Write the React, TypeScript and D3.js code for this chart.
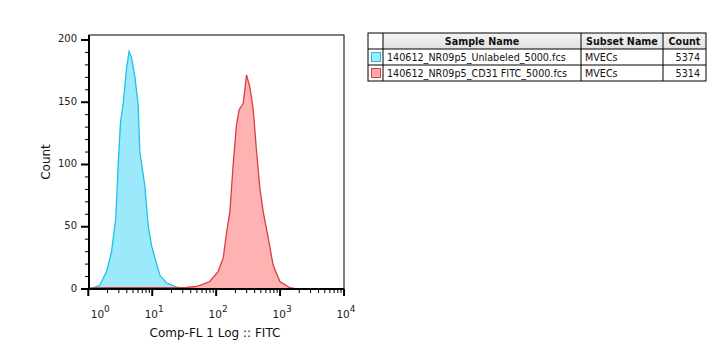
import React from "react";
import * as d3 from "d3";

// ---- data ----
const blueX = [1.05, 1.51, 1.93, 2.31, 2.69, 2.93, 3.19, 3.5, 3.96, 4.35, 4.74, 5.34, 6.02, 6.4, 7.66, 8.63, 9.75, 11.0, 13.2, 16.7, 24, 34.4, 60, 200, 1000, 10000];
const blueY = [0, 3, 14, 30, 57, 99, 134, 148, 177, 191, 186, 171, 148, 110, 83, 51, 35, 25, 11, 5, 1.5, 0.5, 0, 0, 0, 0];

const redX = [1.05, 2, 5, 10, 20, 34.4, 49.3, 79.6, 107, 129, 146, 164, 184, 208, 229, 265, 299, 337, 379, 429, 483, 545, 652, 780, 993, 1423, 1811, 10000];
const redY = [0.8, 1, 1, 1, 1, 1.2, 2, 6, 14, 25, 46, 62, 99, 132, 144, 149, 172, 162, 145, 110, 81, 62, 41, 19, 6, 1, 0, 0];

const decades = [0, 1, 2, 3, 4];
const yMajor = [0, 50, 100, 150, 200];

const sampleNames = ["140612_NR09p5_Unlabeled_5000.fcs", "140612_NR09p5_CD31 FITC_5000.fcs"];
const subsetNames = ["MVECs", "MVECs"];
const counts = [5374, 5314];
const headers = ["Sample Name", "Subset Name", "Count"];

const FONT = "'DejaVu Sans', sans-serif";

export default function App() {
  const left = 89, right = 344, top = 35, bottom = 289;
  const x = d3.scaleLog().domain([1, 10000]).range([88.3, 344]);
  const y = d3.scaleLinear().domain([0, 204]).range([bottom, top]);

  const area = d3.area<[number, number]>()
    .x(d => x(d[0])).y0(y(0)).y1(d => y(d[1])).curve(d3.curveLinear);
  const line = d3.line<[number, number]>()
    .x(d => x(d[0])).y(d => y(d[1])).curve(d3.curveLinear);

  const blue = blueX.map((v, i) => [v, blueY[i]] as [number, number]);
  const red = redX.map((v, i) => [v, redY[i]] as [number, number]);

  const minorX: number[] = [];
  for (let d = 0; d < 4; d++) for (let m = 2; m <= 9; m++) minorX.push(m * Math.pow(10, d));
  const minorY = d3.range(0, 201, 10).filter(v => v % 50 !== 0);

  // table layout
  const tx = [368, 383, 581, 663, 706];
  const ty = [33, 49, 65, 81];
  const swFill = ["#9beefc", "#ffaaaa"];
  const swStroke = ["#2bb6d6", "#d9434b"];
  const TFS = 9.6;

  return (
    <svg width={710} height={341} style={{ display: "block" }}>
      <defs>
        <linearGradient id="hdr" x1="0" y1="0" x2="0" y2="1">
          <stop offset="0" stopColor="#f3f3f3" />
          <stop offset="1" stopColor="#e2e2e2" />
        </linearGradient>
        <clipPath id="plotclip">
          <rect x={left} y={top} width={right - left} height={bottom - top} />
        </clipPath>
      </defs>
      <g transform="translate(-8,-8)">
        {/* plot frame */}
        <rect x={left} y={top} width={right - left} height={bottom - top} fill="white" stroke="black" strokeWidth={1} />
        <g clipPath="url(#plotclip)">
          <path d={area(blue)!} fill="#9be9fb" />
          <path d={line(blue)!} fill="none" stroke="#1cc3e6" strokeWidth={1.3} />
          <path d={area(red)!} fill="#ffaaaa" fillOpacity={0.9} />
          <path d={line(red)!} fill="none" stroke="#dd3b43" strokeWidth={1.3} />
        </g>
        {/* axes lines */}
        <line x1={left} x2={left} y1={top} y2={bottom + 1} stroke="black" strokeWidth={2} />
        <line x1={left - 1} x2={right} y1={bottom} y2={bottom} stroke="black" strokeWidth={2} />
        {/* y ticks */}
        {yMajor.map(v => (
          <g key={"ym" + v}>
            <line x1={left - 8} x2={left} y1={y(v)} y2={y(v)} stroke="black" strokeWidth={2} />
            <text x={left - 12} y={y(v) + 2.5} fontSize={10} fontFamily={FONT} textAnchor="end" fill="#222">{v}</text>
          </g>
        ))}
        {minorY.map(v => (
          <line key={"yn" + v} x1={left - 4} x2={left} y1={y(v)} y2={y(v)} stroke="black" strokeWidth={1} />
        ))}
        {/* x ticks */}
        {decades.map(d => (
          <line key={"xm" + d} x1={x(Math.pow(10, d))} x2={x(Math.pow(10, d))} y1={bottom} y2={bottom + 7} stroke="black" strokeWidth={2} />
        ))}
        {minorX.map(v => (
          <line key={"xn" + v} x1={x(v)} x2={x(v)} y1={bottom} y2={bottom + 4} stroke="black" strokeWidth={1} />
        ))}
        {decades.map(d => {
          const px = d === 0 ? x(1) + 12 : x(Math.pow(10, d)) + 2;
          return (
            <text key={"xl" + d} x={px} y={318} fontSize={10.5} fontFamily={FONT} textAnchor="middle" fill="#222">
              10<tspan dy={-6} fontSize={9}>{d}</tspan>
            </text>
          );
        })}
        {/* axis titles */}
        <text x={215} y={337} fontSize={12} fontFamily={FONT} textAnchor="middle" fill="#111">Comp-FL 1 Log :: FITC</text>
        <text transform={`translate(50,${(top + bottom) / 2}) rotate(-90)`} fontSize={12} fontFamily={FONT} textAnchor="middle" fill="#111">Count</text>

        {/* legend table */}
        <rect x={tx[1]} y={ty[0]} width={tx[4] - tx[1]} height={ty[1] - ty[0]} fill="url(#hdr)" />
        <rect x={tx[0]} y={ty[0]} width={tx[4] - tx[0]} height={ty[3] - ty[0]} fill="none" stroke="black" strokeWidth={1} />
        {ty.slice(1, 3).map(v => (
          <line key={"hr" + v} x1={tx[0]} x2={tx[4]} y1={v} y2={v} stroke="black" strokeWidth={1} />
        ))}
        {tx.slice(1, 4).map(v => (
          <line key={"vr" + v} x1={v} x2={v} y1={ty[0]} y2={ty[3]} stroke="black" strokeWidth={1} />
        ))}
        {headers.map((h, i) => (
          <text key={h} x={(tx[i + 1] + tx[i + 2]) / 2} y={ty[0] + 12} fontSize={TFS} fontWeight="bold" fontFamily={FONT} textAnchor="middle" fill="#111">{h}</text>
        ))}
        {sampleNames.map((s, i) => (
          <g key={s}>
            <rect x={tx[0] + 3.5} y={ty[i + 1] + 3.5} width={9} height={9} fill={swFill[i]} stroke={swStroke[i]} strokeWidth={1} />
            <text x={tx[1] + 4} y={ty[i + 1] + 12} fontSize={TFS} fontFamily={FONT} fill="#111">{s}</text>
            <text x={tx[2] + 4} y={ty[i + 1] + 12} fontSize={TFS} fontFamily={FONT} fill="#111">{subsetNames[i]}</text>
            <text x={tx[4] - 6} y={ty[i + 1] + 12} fontSize={TFS} fontFamily={FONT} textAnchor="end" fill="#111">{counts[i]}</text>
          </g>
        ))}
      </g>
    </svg>
  );
}
